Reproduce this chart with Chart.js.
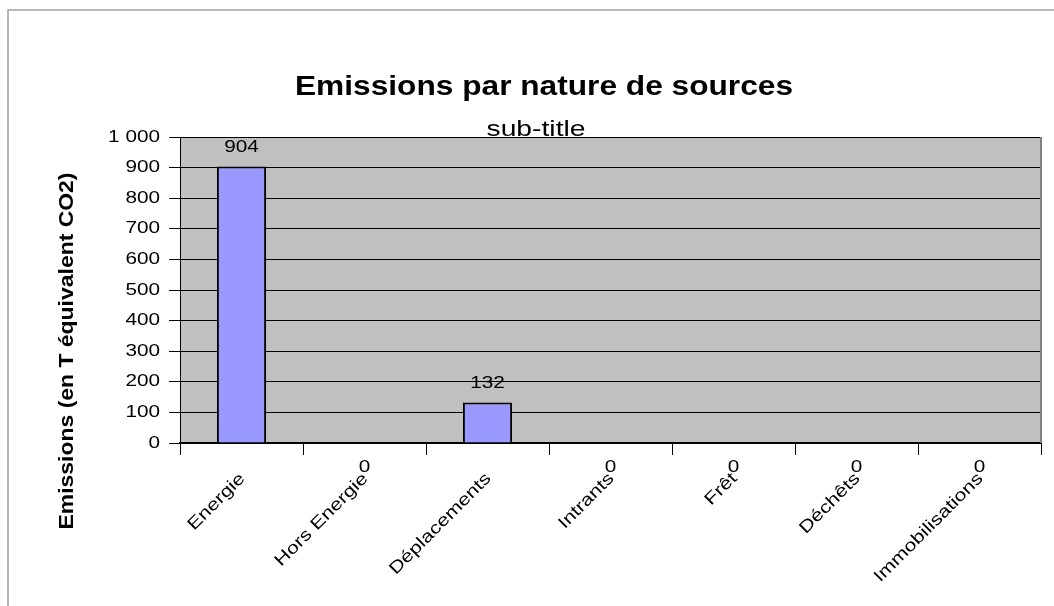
<!DOCTYPE html>
<html>
<head>
<meta charset="utf-8">
<script src="https://cdn.jsdelivr.net/npm/chart.js@4.4.1/dist/chart.umd.min.js"></script>
<style>
  body { margin: 0; background: #fff; }
  canvas { display: block; }
</style>
</head>
<body>
<canvas id="emissionsChart" width="1054" height="606"></canvas>
<script>
// Chart data
const categories = ["Energie", "Hors Energie", "Déplacements", "Intrants", "Frêt", "Déchêts", "Immobilisations"];
const emissions = [904, 0, 132, 0, 0, 0, 0];
const yMin = 0;
const yMax = 1000;
const yStep = 100;

const chartTitle = "Emissions par nature de sources";
const chartSubtitle = "sub-title";
const yAxisTitle = "Emissions (en T équivalent CO2)";

const fontFamily = '"Liberation Sans", Arial, sans-serif';

// Format 1000 as "1 000"
function formatNumber(v) {
    return String(v).replace(/\B(?=(\d{3})+(?!\d))/g, " ");
}

// Draw text stretched horizontally (the reference uses wide glyphs)
function stretchText(ctx, text, x, y, sx, align, baseline, rot) {
    ctx.save();
    ctx.translate(x, y);
    if (rot) ctx.rotate(rot);
    ctx.scale(sx, 1);
    ctx.textAlign = align;
    ctx.textBaseline = baseline;
    ctx.fillText(text, 0, 0);
    ctx.restore();
}

// Frame, plot background, titles and labels
const decorPlugin = {
    id: "decor",
    beforeDraw(chart) {
        const ctx = chart.ctx;
        const area = chart.chartArea;

        // outer frame (only top and left edges are visible)
        ctx.save();
        ctx.strokeStyle = "#a0a0a0";
        ctx.lineWidth = 1.5;
        ctx.beginPath();
        ctx.moveTo(8, 606);
        ctx.lineTo(8, 10);
        ctx.lineTo(1054, 10);
        ctx.stroke();

        // gray plot area
        ctx.fillStyle = "#c0c0c0";
        ctx.fillRect(area.left, area.top, area.right - area.left, area.bottom - area.top);
        ctx.restore();
    },
    afterDraw(chart) {
        const ctx = chart.ctx;
        const area = chart.chartArea;
        const xScale = chart.scales.x;
        const yScale = chart.scales.y;

        ctx.save();

        // right border of plot area
        ctx.strokeStyle = "#808080";
        ctx.lineWidth = 2;
        ctx.beginPath();
        ctx.moveTo(area.right, area.top);
        ctx.lineTo(area.right, area.bottom);
        ctx.stroke();

        ctx.fillStyle = "#000";

        // title
        ctx.font = "bold 28px " + fontFamily;
        let w = ctx.measureText(chartTitle).width;
        stretchText(ctx, chartTitle, 544, 95, 498 / w, "center", "alphabetic");

        // subtitle
        ctx.font = "22px " + fontFamily;
        w = ctx.measureText(chartSubtitle).width;
        stretchText(ctx, chartSubtitle, 536, 136, 99 / w, "center", "alphabetic");

        // y axis title
        ctx.font = "bold 21px " + fontFamily;
        w = ctx.measureText(yAxisTitle).width;
        stretchText(ctx, yAxisTitle, 73, 351, 357 / w, "center", "alphabetic", -Math.PI / 2);

        // y tick labels
        ctx.font = "17px " + fontFamily;
        yScale.ticks.forEach((t) => {
            const y = yScale.getPixelForValue(t.value);
            stretchText(ctx, formatNumber(t.value), 160, y, 1.22, "right", "middle");
        });

        // category labels
        categories.forEach((c, i) => {
            const x = xScale.getPixelForValue(i);
            stretchText(ctx, c, x + 1, 476, 1.25, "right", "middle", -Math.PI / 4);
        });

        // value labels
        const meta = chart.getDatasetMeta(0);
        meta.data.forEach((bar, i) => {
            const v = emissions[i];
            const y = v > 0 ? bar.y - 19 : bar.base + 24;
            stretchText(ctx, formatNumber(v), bar.x, y, 1.22, "center", "middle");
        });

        ctx.restore();
    }
};

const ctx = document.querySelector("#emissionsChart").getContext("2d");

new Chart(ctx, {
    type: "bar",
    data: {
        labels: categories,
        datasets: [{
            data: emissions,
            backgroundColor: "#9999ff",
            borderColor: "#000",
            borderWidth: 2,
            barPercentage: 0.4,
            categoryPercentage: 1.0
        }]
    },
    options: {
        responsive: false,
        animation: false,
        devicePixelRatio: 1,
        layout: {
            padding: { left: 80, top: 137, right: 13, bottom: 0 }
        },
        plugins: {
            legend: { display: false },
            tooltip: { enabled: false },
            title: { display: false }
        },
        scales: {
            x: {
                grid: {
                    offset: true,
                    drawOnChartArea: false,
                    drawTicks: true,
                    tickLength: 12,
                    color: "#000"
                },
                border: { color: "#000", width: 2 },
                ticks: { display: false, autoSkip: false },
                afterFit(scale) { scale.height = 163; }
            },
            y: {
                min: yMin,
                max: yMax,
                grid: {
                    color: "#000",
                    lineWidth: 1,
                    drawTicks: true,
                    tickLength: 11
                },
                border: { color: "#000", width: 1 },
                ticks: { display: false, stepSize: yStep },
                afterFit(scale) { scale.width = 100; }
            }
        }
    },
    plugins: [decorPlugin]
});
</script>
</body>
</html>
